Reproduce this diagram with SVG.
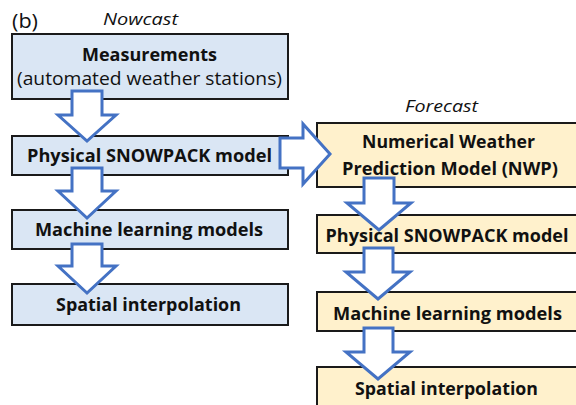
<svg xmlns="http://www.w3.org/2000/svg" width="576" height="405" viewBox="0 0 576 405">
<style>
.now{fill:#dae6f4;stroke:#1a1a1a;stroke-width:2}
.fc{fill:#fff1cc;stroke:#1a1a1a;stroke-width:2}
.arr{fill:#ffffff;stroke:#4472c4;stroke-width:3;stroke-linejoin:miter}
text{font-family:"Open Sans","Liberation Sans",sans-serif;fill:#111;text-anchor:middle}
.b{font-weight:700;font-size:18.5px}
.r{font-size:18px}
.i{font-style:italic;font-size:17px}
</style>
<rect width="576" height="405" fill="#ffffff"/>
<text x="25" y="28" class="r" style="font-size:20px" textLength="26" lengthAdjust="spacingAndGlyphs">(b)</text>
<text x="140.5" y="25" class="i" textLength="75" lengthAdjust="spacingAndGlyphs">Nowcast</text>
<text x="441.5" y="112" class="i" textLength="73" lengthAdjust="spacingAndGlyphs">Forecast</text>
<g id="measurements">
<rect class="now" x="12" y="34" width="276" height="65"/>
<text x="149.5" y="61" class="b" textLength="135" lengthAdjust="spacingAndGlyphs">Measurements</text>
<text x="149.5" y="85" class="r" textLength="265" lengthAdjust="spacingAndGlyphs">(automated weather stations)</text>
</g>
<g id="snowpack-now">
<rect class="now" x="12" y="136" width="276" height="39"/>
<text x="149.5" y="162" class="b" textLength="245" lengthAdjust="spacingAndGlyphs">Physical SNOWPACK model</text>
</g>
<g id="ml-now">
<rect class="now" x="12" y="210" width="276" height="39"/>
<text x="149" y="236" class="b" textLength="228" lengthAdjust="spacingAndGlyphs">Machine learning models</text>
</g>
<g id="spatial-now">
<rect class="now" x="12" y="284" width="276" height="41"/>
<text x="148.5" y="311" class="b" textLength="185" lengthAdjust="spacingAndGlyphs">Spatial interpolation</text>
</g>
<g id="nwp">
<rect class="fc" x="317" y="123" width="270" height="64"/>
<text x="448.5" y="148" class="b" textLength="173" lengthAdjust="spacingAndGlyphs">Numerical Weather</text>
<text x="450" y="175" class="b" textLength="216" lengthAdjust="spacingAndGlyphs">Prediction Model (NWP)</text>
</g>
<g id="snowpack-fc">
<rect class="fc" x="317" y="215" width="270" height="38"/>
<text x="447" y="242" class="b" textLength="243" lengthAdjust="spacingAndGlyphs">Physical SNOWPACK model</text>
</g>
<g id="ml-fc">
<rect class="fc" x="317" y="292" width="270" height="39"/>
<text x="447.5" y="320" class="b" textLength="229" lengthAdjust="spacingAndGlyphs">Machine learning models</text>
</g>
<g id="spatial-fc">
<rect class="fc" x="317" y="367" width="270" height="45"/>
<text x="446.5" y="395" class="b" textLength="183" lengthAdjust="spacingAndGlyphs">Spatial interpolation</text>
</g>
<g id="connectors">
<polygon class="arr" points="72,91 102,91 102,115 116,115 87,141 58,115 72,115"/>
<polygon class="arr" points="72,168 102,168 102,191 116,191 87,218 58,191 72,191"/>
<polygon class="arr" points="72,244 102,244 102,266 116,266 87,293 58,266 72,266"/>
<polygon class="arr" points="280,138 303,138 303,124 330,154 303,184 303,168 280,168"/>
<polygon class="arr" points="364,178 394,178 394,203 411,203 379,230 347,203 364,203"/>
<polygon class="arr" points="364,248 393,248 393,272 410,272 378,299 346,272 364,272"/>
<polygon class="arr" points="364,328 393,328 393,352 410,352 378,379 346,352 364,352"/>
</g>
</svg>
